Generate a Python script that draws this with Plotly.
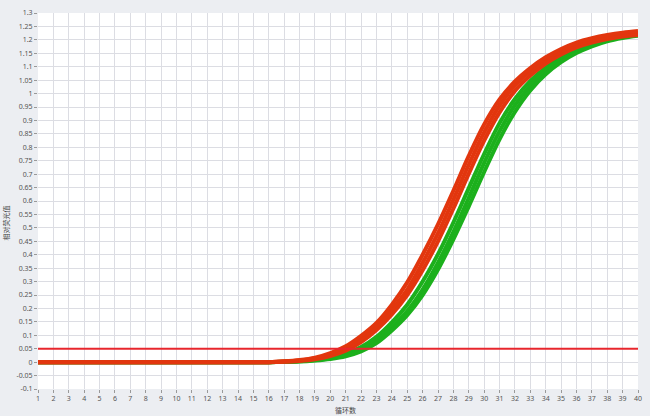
import plotly.graph_objects as go

cycles = list(range(1, 41))

# relative fluorescence readings per cycle (cycles 1..40)
red_early = [0, 0, 0, 0, 0, 0, 0, 0, 0, 0, 0, 0, 0, 0, 0, 0,
             0.003, 0.008, 0.017, 0.034, 0.059, 0.098, 0.146, 0.214, 0.297, 0.40,
             0.513, 0.638, 0.768, 0.885, 0.978, 1.045, 1.095, 1.135, 1.166, 1.19,
             1.206, 1.218, 1.227, 1.233]
red_mid = [0, 0, 0, 0, 0, 0, 0, 0, 0, 0, 0, 0, 0, 0, 0, 0,
           0.002, 0.006, 0.014, 0.028, 0.05, 0.085, 0.133, 0.195, 0.27, 0.37,
           0.48, 0.605, 0.735, 0.855, 0.955, 1.03, 1.083, 1.125, 1.157, 1.182,
           1.198, 1.21, 1.219, 1.225]
red_late = [0, 0, 0, 0, 0, 0, 0, 0, 0, 0, 0, 0, 0, 0, 0, 0,
            0.0012, 0.0045, 0.011, 0.023, 0.043, 0.075, 0.12, 0.178, 0.25, 0.342,
            0.45, 0.572, 0.702, 0.825, 0.93, 1.01, 1.067, 1.112, 1.146, 1.172,
            1.19, 1.203, 1.212, 1.218]
green_early = [0, 0, 0, 0, 0, 0, 0, 0, 0, 0, 0, 0, 0, 0, 0, 0,
               0.0015, 0.004, 0.009, 0.018, 0.032, 0.056, 0.094, 0.148, 0.214, 0.3,
               0.402, 0.52, 0.648, 0.775, 0.89, 0.98, 1.047, 1.097, 1.136, 1.165,
               1.188, 1.203, 1.214, 1.222]
green_mid = [0, 0, 0, 0, 0, 0, 0, 0, 0, 0, 0, 0, 0, 0, 0, 0,
             0.001, 0.003, 0.007, 0.014, 0.025, 0.045, 0.08, 0.13, 0.19, 0.27,
             0.37, 0.485, 0.612, 0.742, 0.86, 0.957, 1.03, 1.085, 1.127, 1.158,
             1.182, 1.199, 1.211, 1.219]
green_late = [0, 0, 0, 0, 0, 0, 0, 0, 0, 0, 0, 0, 0, 0, 0, 0,
              0.0006, 0.002, 0.006, 0.012, 0.022, 0.04, 0.071, 0.118, 0.175, 0.25,
              0.345, 0.457, 0.58, 0.708, 0.83, 0.932, 1.012, 1.072, 1.117, 1.151,
              1.176, 1.195, 1.207, 1.215]

threshold = 0.05

y_tickvals = [-0.1, -0.05, 0, 0.05, 0.1, 0.15, 0.2, 0.25, 0.3, 0.35, 0.4, 0.45, 0.5,
              0.55, 0.6, 0.65, 0.7, 0.75, 0.8, 0.85, 0.9, 0.95, 1, 1.05, 1.1, 1.15,
              1.2, 1.25, 1.3]
y_ticktext = ["-0.1", "-0.05", "0", "0.05", "0.1", "0.15", "0.2", "0.25", "0.3", "0.35",
              "0.4", "0.45", "0.5", "0.55", "0.6", "0.65", "0.7", "0.75", "0.8", "0.85",
              "0.9", "0.95", "1", "1.05", "1.1", "1.15", "1.2", "1.25", "1.3"]

x_title = "循环数"
y_title = "相对荧光值"

GREEN = "#1cb01c"
RED = "#e2360e"
BG = "#eceef2"

fig = go.Figure()
for ys in (green_early, green_mid, green_late):
    fig.add_trace(go.Scatter(x=cycles, y=ys, mode="lines",
                             line=dict(color=GREEN, width=4, shape="spline"),
                             hoverinfo="skip", showlegend=False))
for ys in (red_late, red_mid, red_early):
    fig.add_trace(go.Scatter(x=cycles, y=ys, mode="lines",
                             line=dict(color=RED, width=4, shape="spline"),
                             hoverinfo="skip", showlegend=False))

fig.add_trace(go.Scatter(x=[cycles[0], cycles[-1]], y=[threshold, threshold], mode="lines",
                         line=dict(color="#e8262c", width=2),
                         hoverinfo="skip", showlegend=False))

tick_font = dict(family="Noto Sans, Open Sans, sans-serif", size=7, color="#555555")

fig.update_layout(
    width=650, height=416,
    margin=dict(l=38, r=8, t=11, b=27),
    paper_bgcolor=BG,
    plot_bgcolor="#ffffff",
    xaxis=dict(range=[1, 40], tickmode="array", tickvals=cycles,
               ticktext=[str(c) for c in cycles],
               showgrid=True, gridcolor="#dcdde3", gridwidth=1,
               zeroline=False, showline=False,
               ticks="outside", ticklen=3, tickcolor="#999999",
               tickfont=tick_font),
    yaxis=dict(range=[-0.1, 1.3], tickmode="array", tickvals=y_tickvals,
               ticktext=y_ticktext,
               showgrid=True, gridcolor="#dcdde3", gridwidth=1,
               zeroline=False, showline=False,
               ticks="outside", ticklen=3, tickcolor="#999999",
               tickfont=tick_font),
    annotations=[
        dict(text=x_title, xref="paper", yref="paper", x=0.513, y=0, yshift=-14,
             showarrow=False, yanchor="top",
             font=dict(family="Noto Sans CJK SC", size=7, color="#444444")),
        dict(text=y_title, xref="paper", yref="paper", x=0, xshift=-32, y=0.44,
             showarrow=False, textangle=-90, xanchor="center",
             font=dict(family="Noto Sans CJK SC", size=7, color="#444444")),
    ],
)

fig.write_html(
    "out.html",
    config={"displayModeBar": False},
    post_script="document.body.style.margin='0';document.body.style.background='%s';" % BG,
)
